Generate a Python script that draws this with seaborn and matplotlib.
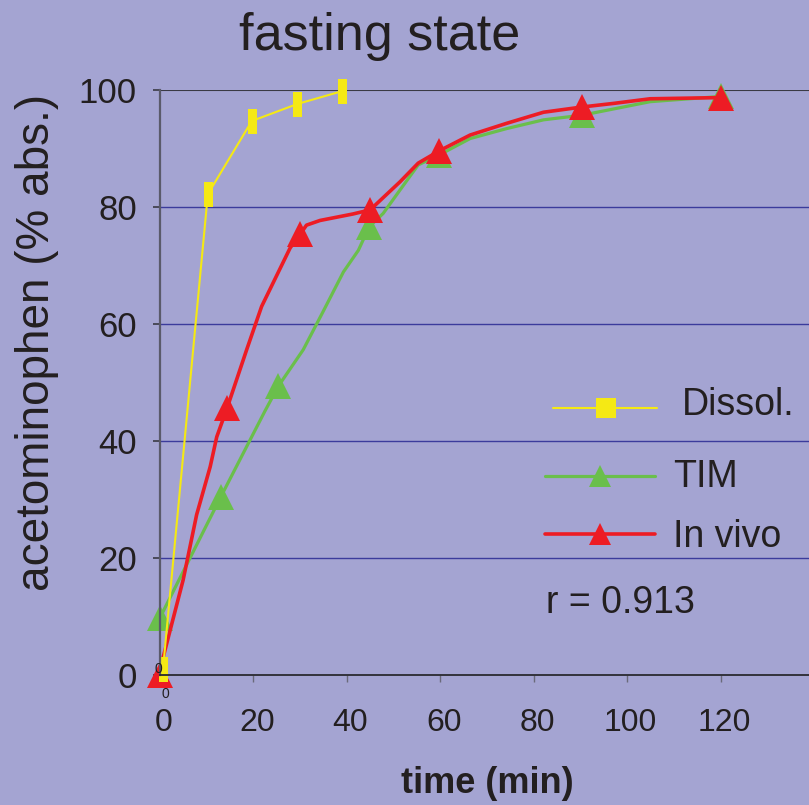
import numpy as np
import pandas as pd
import matplotlib
matplotlib.use('Agg')
import matplotlib.pyplot as plt
import matplotlib.transforms as mtransforms
from matplotlib.lines import Line2D
import seaborn as sns

# values
dissol_t = [0.7, 10.3, 19.7, 29.4, 39.0]
dissol_y = [1.0, 82.2, 94.7, 97.6, 99.8]

tim_t = [0, 13.1, 22.5, 25.4, 30.7, 35.0, 39.3, 42.5, 44.8, 47.8, 51.4, 55.3,
         59.8, 66.4, 74.2, 82.1, 90.4, 104.9, 120]
tim_y = [9.7, 30.5, 45.1, 49.4, 55.6, 62.2, 68.9, 72.6, 76.6, 78.9, 82.9, 87.2,
         88.9, 91.7, 93.4, 94.9, 95.7, 98.0, 98.9]
tim_marks = [0, 1, 3, 8, 12, 16, 18]

vivo_t = [0, 0.6, 5.0, 7.9, 10.8, 12.2, 14.4, 18.6, 21.8, 27.9, 30.0, 31.4, 34.3,
          41.3, 45.0, 51.4, 55.3, 59.8, 66.4, 74.2, 82.1, 90.4, 97.0, 104.9, 120]
vivo_y = [0, 2.6, 16.2, 27.4, 35.6, 40.7, 45.6, 55.6, 63.0, 73.0, 75.3, 76.9, 77.7,
          78.8, 79.5, 84.3, 87.5, 89.6, 92.3, 94.3, 96.2, 97.1, 97.7, 98.5, 98.7]
vivo_marks = [0, 6, 10, 14, 17, 21, 24]

x_ticks = [0, 20, 40, 60, 80, 100, 120]
y_ticks = [0, 20, 40, 60, 80, 100]

bg = '#a4a4d2'
ink = '#231f20'
c_yel = '#f5e914'
c_grn = '#6abf4b'
c_red = '#ed1c24'

sns.set_style('white', {'axes.facecolor': bg, 'figure.facecolor': bg})
plt.rcParams['font.family'] = ['Liberation Sans', 'DejaVu Sans']

W, H = 809, 805
fig = plt.figure(figsize=(W / 100, H / 100), dpi=100)
x0, x_end, y0, y_top = 159.7, 809, 675, 90
ax = fig.add_axes([x0 / W, 1 - y0 / H, (x_end - x0) / W, (y0 - y_top) / H])
ax.set_xlim(0, (x_end - x0) / 4.675)
ax.set_ylim(0, 100)

rect = [(-0.18, -0.5), (0.18, -0.5), (0.18, 0.5), (-0.18, 0.5), (-0.18, -0.5)]

tim = pd.DataFrame({'t': tim_t, 'y': tim_y})
vivo = pd.DataFrame({'t': vivo_t, 'y': vivo_y})
dis = pd.DataFrame({'t': dissol_t, 'y': dissol_y})

sns.lineplot(data=tim, x='t', y='y', ax=ax, color=c_grn, lw=2.3, marker='^',
             markersize=19, markevery=tim_marks, markeredgewidth=0, clip_on=False)
sns.lineplot(data=vivo, x='t', y='y', ax=ax, color=c_red, lw=2.6, marker='^',
             markersize=19, markevery=vivo_marks, markeredgewidth=0, clip_on=False)
sns.lineplot(data=dis, x='t', y='y', ax=ax, color=c_yel, lw=1.5, marker=rect,
             markersize=18, markeredgewidth=0, clip_on=False)

ax.annotate('0', (0, 0), xytext=(-1, 4), textcoords='offset points',
            ha='center', va='center', fontsize=10, color=ink)
ax.annotate('0', (0, 0), xytext=(4, -14), textcoords='offset points',
            ha='center', va='center', fontsize=10, color=ink)

ax.set_xticks(x_ticks)
ax.set_yticks(y_ticks)
ax.yaxis.grid(True, color='#3b3b9c', lw=1.0)
ax.get_ygridlines()[-1].set_color('#3a3a45')
ax.get_ygridlines()[-1].set_linewidth(1.5)
ax.get_ygridlines()[0].set_visible(False)
ax.tick_params(axis='y', direction='out', length=5, width=1.2, color='#3a3a45',
               pad=11.5, labelsize=25, labelcolor=ink, left=True)
ax.tick_params(axis='x', direction='out', length=5, width=1, color='#6a6a7a',
               pad=19, labelsize=23, labelcolor=ink, bottom=True)
shift = mtransforms.ScaledTranslation(3.5 / 100, 0, fig.dpi_scale_trans)
for lab in ax.get_xticklabels():
    lab.set_transform(lab.get_transform() + shift)
for s in ['top', 'right']:
    ax.spines[s].set_visible(False)
ax.spines['left'].set_color('#5a5a6a')
ax.spines['left'].set_linewidth(1.6)
ax.spines['bottom'].set_color('#2a2a30')
ax.spines['bottom'].set_linewidth(1.3)

ax.set_xlabel('time (min)', fontsize=26, fontweight='bold', color=ink, va='center')
ax.xaxis.set_label_coords(0.504, -0.185)
ax.set_ylabel('acetominophen (% abs.)', fontsize=33, color=ink, va='center')
ax.yaxis.set_label_coords(-0.189, 0.569)

fig.text(380 / W, 1 - 50 / H, 'fasting state', fontsize=37.5, color=ink,
         ha='center', va='baseline')

# legend drawn by hand to keep the original layout
def fx(px):
    return px / W

def fy(py):
    return 1 - py / H

fig.add_artist(Line2D([fx(553), fx(657)], [fy(408), fy(408)], color=c_yel, lw=1.5))
fig.add_artist(Line2D([fx(606)], [fy(408)], marker='s', ms=15, color=c_yel, mew=0))
fig.add_artist(Line2D([fx(545), fx(655)], [fy(476), fy(476)], color=c_grn, lw=2.3))
fig.add_artist(Line2D([fx(600)], [fy(476)], marker='^', ms=16, color=c_grn, mew=0))
fig.add_artist(Line2D([fx(545), fx(655)], [fy(534), fy(534)], color=c_red, lw=2.6))
fig.add_artist(Line2D([fx(600)], [fy(534)], marker='^', ms=16, color=c_red, mew=0))

fig.text(fx(682), fy(415), 'Dissol.', fontsize=27, color=ink, va='baseline')
fig.text(fx(673), fy(487), 'TIM', fontsize=27, color=ink, va='baseline')
fig.text(fx(673), fy(547), 'In vivo', fontsize=27, color=ink, va='baseline')
fig.text(fx(546), fy(613), 'r = 0.913', fontsize=27, color=ink, va='baseline')

fig.savefig('out.png', dpi=100, facecolor=bg)
